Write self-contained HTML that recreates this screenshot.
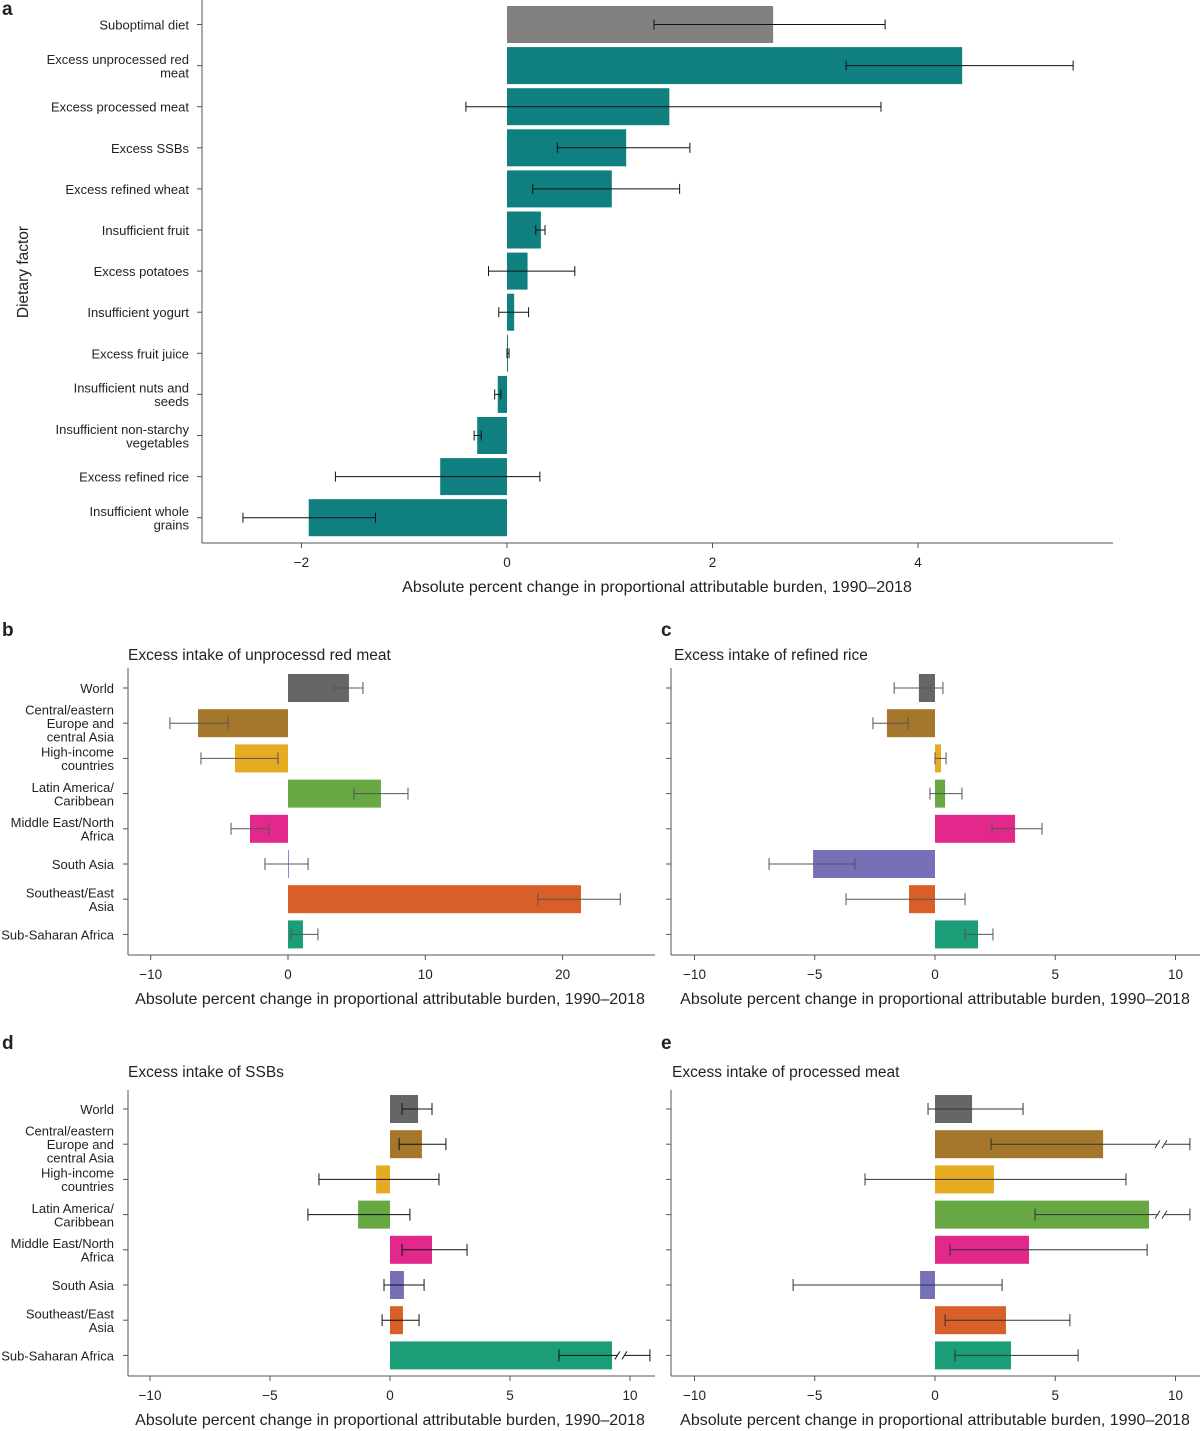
<!DOCTYPE html>
<html><head><meta charset="utf-8">
<style>
body{margin:0;background:#fff;}
svg{display:block;font-family:"Liberation Sans",sans-serif;}
</style></head>
<body>
<svg id="chart" width="1200" height="1431" viewBox="0 0 1200 1431" xmlns="http://www.w3.org/2000/svg"></svg>
<script>
// Panel a data
const aCategories = [["Suboptimal diet"],["Excess unprocessed red","meat"],["Excess processed meat"],["Excess SSBs"],["Excess refined wheat"],["Insufficient fruit"],["Excess potatoes"],["Insufficient yogurt"],["Excess fruit juice"],["Insufficient nuts and","seeds"],["Insufficient non-starchy","vegetables"],["Excess refined rice"],["Insufficient whole","grains"]];
const aValues = [2.59,4.43,1.58,1.16,1.02,0.33,0.20,0.07,0.01,-0.09,-0.29,-0.65,-1.93];
const aLow = [1.43,3.30,-0.40,0.49,0.25,0.28,-0.18,-0.08,0.00,-0.12,-0.32,-1.67,-2.57];
const aHigh = [3.68,5.51,3.64,1.78,1.68,0.37,0.66,0.21,0.02,-0.06,-0.25,0.32,-1.28];
const aTicks = [-2,0,2,4];
const aTickLabels = ["−2","0","2","4"];

// Regions shared by panels b–e
const regions = [["World"],["Central/eastern","Europe and","central Asia"],["High-income","countries"],["Latin America/","Caribbean"],["Middle East/North","Africa"],["South Asia"],["Southeast/East","Asia"],["Sub-Saharan Africa"]];
const regionColors = ["#666666","#a5772d","#e5ab21","#67a843","#e2288a","#7570b8","#d85f27","#1b9e77"];

const bValues = [4.44,-6.55,-3.86,6.77,-2.77,0.0,21.34,1.09];
const bLow = [3.35,-8.6,-6.34,4.8,-4.15,-1.68,18.2,0.22];
const bHigh = [5.46,-4.37,-0.73,8.74,-1.38,1.46,24.2,2.18];
const bTicks = [-10,0,10,20];
const bTickLabels = ["−10","0","10","20"];

const cValues = [-0.67,-2.0,0.25,0.42,3.33,-5.07,-1.08,1.79];
const cLow = [-1.7,-2.58,0.0,-0.21,2.37,-6.9,-3.7,1.25];
const cHigh = [0.33,-1.12,0.46,1.12,4.45,-3.33,1.25,2.41];

const dValues = [1.17,1.33,-0.58,-1.33,1.75,0.58,0.54,9.25];
const dLow = [0.5,0.38,-2.96,-3.42,0.5,-0.25,-0.33,7.04];
const dHigh = [1.75,2.33,2.04,0.83,3.21,1.42,1.21,13.5];

const eValues = [1.54,6.99,2.45,8.9,3.91,-0.62,2.95,3.16];
const eLow = [-0.29,2.33,-2.91,4.16,0.62,-5.9,0.42,0.83];
const eHigh = [3.66,13.0,7.94,14.0,8.82,2.79,5.61,5.95];

const cdeTicks = [-10,-5,0,5,10];
const cdeTickLabels = ["−10","−5","0","5","10"];

const NS="http://www.w3.org/2000/svg";
const svg=document.getElementById('chart');
function el(tag,attrs,parent){const e=document.createElementNS(NS,tag);for(const k in attrs)e.setAttribute(k,attrs[k]);(parent||svg).appendChild(e);return e;}
function txt(x,y,s,size,anchor,parent,weight){const t=el('text',{x:x,y:y,'font-size':size,'text-anchor':anchor||'start',fill:'#222'},parent);if(weight)t.setAttribute('font-weight',weight);t.textContent=s;return t;}

function panel(o){
  const g=el('g',{});
  
  
  const sx=v=>o.x0+(v-o.zero)*o.ppu;
  const clipMax=o.clipMax;
  const ax=el('line',{x1:o.left,y1:o.bottom,x2:o.right,y2:o.bottom,stroke:'#555','stroke-width':1},g);
  
  const ay=el('line',{x1:o.left,y1:o.top,x2:o.left,y2:o.bottom,stroke:'#555','stroke-width':1},g);
  
  o.ticks.forEach((t,i)=>{
    el('line',{x1:sx(t),y1:o.bottom,x2:sx(t),y2:o.bottom+5,stroke:'#555'},g);
    const tl=txt(sx(t),o.bottom+24,o.tickLabels[i],13.5,'middle',g);
    
  });
  const xt=txt(o.titleX,o.bottom+49,'Absolute percent change in proportional attributable burden, 1990–2018',16,'middle',g);
  
  o.values.forEach((v,i)=>{
    const cy=o.row0+i*o.step;
    el('line',{x1:o.left-5,y1:cy,x2:o.left,y2:cy,stroke:'#555'},g);
    if(o.labels){
      const lines=o.labels[i];const n=lines.length;
      lines.forEach((s,j)=>{const t=txt(o.labelX,cy+5+(j-(n-1)/2)*13.5,s,13,'end',g);
        });
    }
    const x1=Math.min(sx(0),sx(v)),w=Math.max(Math.abs(sx(v)-sx(0)),0.8);
    const r=el('rect',{x:x1,y:cy-o.bh/2,width:w,height:o.bh,fill:o.colors[i]},g);
    
    const lo=sx(o.low[i]);let hiV=o.high[i];let broken=false;
    if(clipMax!==undefined&&hiV>clipMax){hiV=clipMax;broken=true;}
    const hi=sx(hiV);
    const ec=o.errColor;
    const eb=el('line',{x1:lo,y1:cy,x2:hi,y2:cy,stroke:ec,'stroke-width':1},g);
    
    el('line',{x1:lo,y1:cy-o.cap,x2:lo,y2:cy+o.cap,stroke:ec},g);
    el('line',{x1:hi,y1:cy-o.cap,x2:hi,y2:cy+o.cap,stroke:ec},g);
    if(broken){
      const bx=hi-30;
      el('rect',{x:bx-2,y:cy-2,width:7,height:4,fill:'#fff'},g);
      el('line',{x1:bx-5,y1:cy+4,x2:bx,y2:cy-4,stroke:ec},g);
      el('line',{x1:bx+2,y1:cy+4,x2:bx+7,y2:cy-4,stroke:ec},g);
    }
  });
  if(o.title){const t=txt(o.titleTx,o.titleTy,o.title,15.5,'start',g);}
  const L=txt(o.letterX,o.letterY,o.letter,19,'start',g,'bold');
}

panel({name:'panel-a',letter:'a',letterX:2,letterY:15,x0:507,zero:0,ppu:102.75,left:202,right:1113,top:0,bottom:543,
  ticks:aTicks,tickLabels:aTickLabels,titleX:657,values:aValues,low:aLow,high:aHigh,
  colors:aValues.map((v,i)=>i===0?'#808080':'#0f7f7f'),labels:aCategories,labelX:189,row0:24.5,step:41.1,bh:37,cap:5,errColor:'#111'});
const at=txt(0,0,'Dietary factor',15.5,'middle');
at.setAttribute('transform','translate(28,272) rotate(-90)');



panel({name:'panel-b',letter:'b',letterX:2,letterY:636,x0:288,zero:0,ppu:13.73,left:128,right:655,top:668,bottom:955,
  ticks:bTicks,tickLabels:bTickLabels,titleX:390,values:bValues,low:bLow,high:bHigh,colors:regionColors,labels:regions,labelX:114,
  row0:688,step:35.2,bh:28,cap:6,errColor:'#555',title:'Excess intake of unprocessd red meat',titleTx:128,titleTy:660});
panel({name:'panel-c',letter:'c',letterX:661,letterY:636,x0:935,zero:0,ppu:24.05,left:671,right:1200,top:668,bottom:955,
  ticks:cdeTicks,tickLabels:cdeTickLabels,titleX:935,values:cValues,low:cLow,high:cHigh,colors:regionColors,labels:null,
  row0:688,step:35.2,bh:28,cap:6,errColor:'#555',title:'Excess intake of refined rice',titleTx:674,titleTy:660});
panel({name:'panel-d',letter:'d',letterX:2,letterY:1049,x0:390,zero:0,ppu:24,left:128,right:655,top:1090,bottom:1376,
  ticks:cdeTicks,tickLabels:cdeTickLabels,titleX:390,values:dValues,low:dLow,high:dHigh,colors:regionColors,labels:regions,labelX:114,
  row0:1109,step:35.2,bh:28,cap:6,errColor:'#111',clipMax:10.83,title:'Excess intake of SSBs',titleTx:128,titleTy:1077});
panel({name:'panel-e',letter:'e',letterX:661,letterY:1049,x0:935,zero:0,ppu:24.05,left:671,right:1200,top:1090,bottom:1376,
  ticks:cdeTicks,tickLabels:cdeTickLabels,titleX:935,values:eValues,low:eLow,high:eHigh,colors:regionColors,labels:null,
  row0:1109,step:35.2,bh:28,cap:6,errColor:'#333',clipMax:10.6,title:'Excess intake of processed meat',titleTx:672,titleTy:1077});
</script>
</body></html>
